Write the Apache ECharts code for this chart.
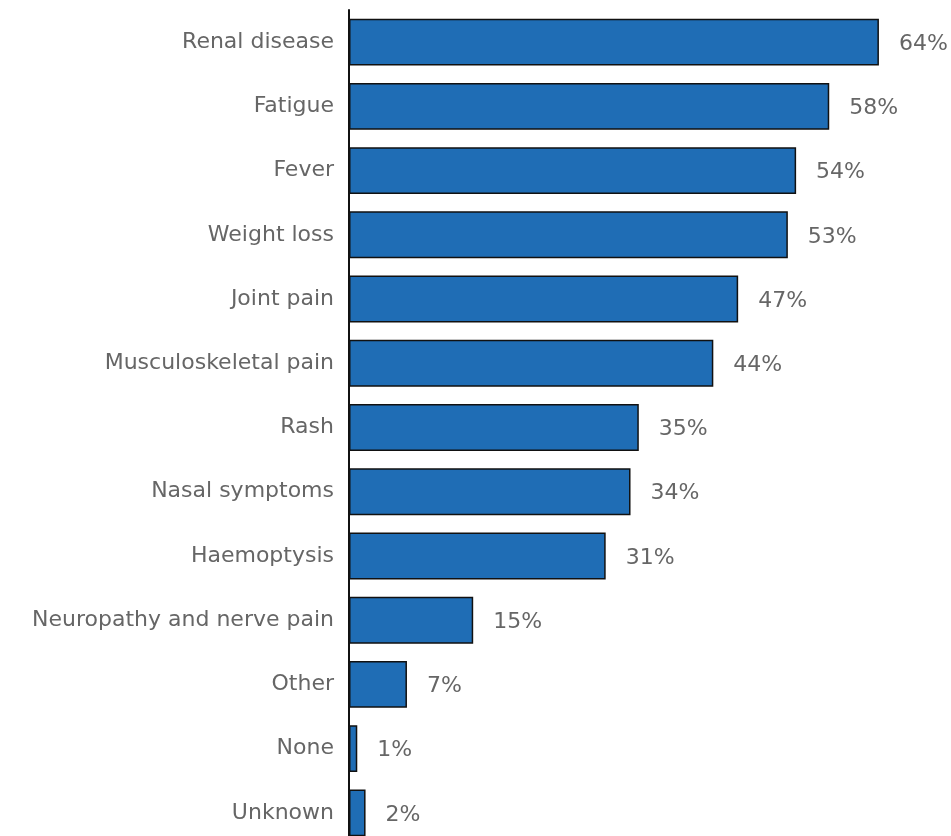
<!DOCTYPE html>
<html>
<head>
<meta charset="utf-8">
<script src="https://cdn.jsdelivr.net/npm/echarts@6/dist/echarts.min.js"></script>
<style>
  html, body { margin: 0; padding: 0; background: #fff; }
  #chart { width: 951px; height: 836px; }
</style>
</head>
<body>
<div id="chart"></div>
<script>
var categories = ['Renal disease', 'Fatigue', 'Fever', 'Weight loss', 'Joint pain',
  'Musculoskeletal pain', 'Rash', 'Nasal symptoms', 'Haemoptysis',
  'Neuropathy and nerve pain', 'Other', 'None', 'Unknown'];
var values = [64, 58, 54, 53, 47, 44, 35, 34, 31, 15, 7, 1, 2];

var chart = echarts.init(document.getElementById('chart'));

var option = {
  animation: false,
  grid: {
    left: 349,
    top: 10,
    width: 579.6,
    height: 835,
    outerBoundsMode: 'none'
  },
  xAxis: {
    type: 'value',
    min: 0,
    max: 70,
    show: false
  },
  yAxis: {
    type: 'category',
    data: categories,
    inverse: true,
    axisLine: { show: true, lineStyle: { color: '#111', width: 2 } },
    axisTick: { show: false },
    axisLabel: {
      color: '#666',
      fontSize: 22,
      fontFamily: 'DejaVu Sans',
      margin: 15
    }
  },
  series: [{
    type: 'bar',
    data: values,
    barCategoryGap: '27%',
    itemStyle: {
      color: '#1f6db5',
      borderColor: '#111',
      borderWidth: 1.5
    },
    label: {
      show: true,
      position: 'right',
      distance: 20,
      offset: [0, 2],
      formatter: '{c}%',
      color: '#666',
      fontSize: 22,
      fontFamily: 'DejaVu Sans'
    }
  }]
};

chart.setOption(option);
</script>
</body>
</html>
